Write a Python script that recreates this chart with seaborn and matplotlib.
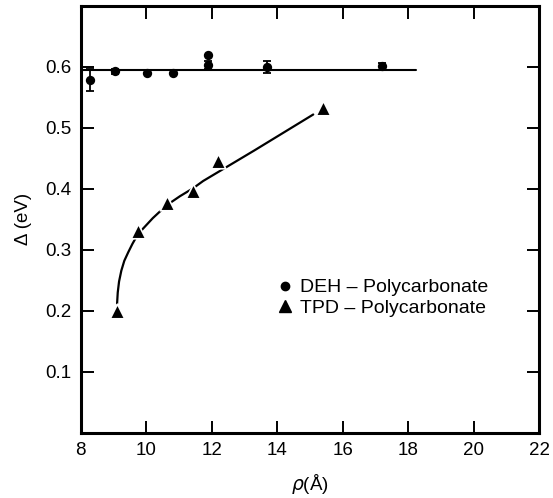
import matplotlib
matplotlib.use('Agg')
from matplotlib import pyplot as plt
from matplotlib.lines import Line2D
import numpy as np
import pandas as pd
import seaborn as sns

# DEH - Polycarbonate points (with error bars)
deh_rho = [8.28, 9.04, 10.02, 10.81, 11.90, 11.90, 13.69, 17.20]
deh_delta = [0.579, 0.593, 0.590, 0.590, 0.619, 0.603, 0.600, 0.601]
deh_err = [0.018, 0.004, 0.0, 0.0, 0.0, 0.006, 0.010, 0.006]
# horizontal fit through DEH points
deh_fit_rho = [8.0, 18.25]
deh_fit_delta = [0.595, 0.595]

# TPD - Polycarbonate points
tpd_rho = [9.11, 9.75, 10.62, 11.43, 12.18, 15.39]
tpd_delta = [0.200, 0.331, 0.377, 0.396, 0.446, 0.532]
# drawn curve through TPD points
tpd_curve_rho = [9.11, 9.13, 9.17, 9.24, 9.33, 9.45, 9.58, 9.75, 10.2, 10.62, 11.03, 11.43, 11.74, 13.3, 15.1]
tpd_curve_delta = [0.212, 0.230, 0.248, 0.266, 0.282, 0.296, 0.310, 0.326, 0.352, 0.373, 0.388, 0.401, 0.413, 0.463, 0.522]

X_TICKS = [8, 10, 12, 14, 16, 18, 20, 22]
Y_TICKS = [0.1, 0.2, 0.3, 0.4, 0.5, 0.6]

sns.set_theme(style='ticks')
plt.rcParams['font.family'] = ['Liberation Sans', 'DejaVu Sans']
plt.rcParams['mathtext.fontset'] = 'dejavusans'
plt.rcParams['text.color'] = 'black'
plt.rcParams['axes.labelcolor'] = 'black'

fig = plt.figure(figsize=(5.53, 4.98), dpi=100)
ax = fig.add_axes([0.146, 0.131, 0.829, 0.857])

df_deh = pd.DataFrame({'rho': deh_rho, 'delta': deh_delta})
df_tpd = pd.DataFrame({'rho': tpd_rho, 'delta': tpd_delta})
df_deh_fit = pd.DataFrame({'rho': deh_fit_rho, 'delta': deh_fit_delta})
df_tpd_curve = pd.DataFrame({'rho': tpd_curve_rho, 'delta': tpd_curve_delta})

sns.lineplot(data=df_deh_fit, x='rho', y='delta', color='black', linewidth=1.5,
             sort=False, estimator=None, ax=ax)
sns.lineplot(data=df_tpd_curve, x='rho', y='delta', color='black', linewidth=1.6,
             sort=False, estimator=None, ax=ax)

ax.errorbar(deh_rho, deh_delta, yerr=deh_err, fmt='none', ecolor='black',
            elinewidth=1.3, capsize=3, capthick=1.3, zorder=3)
sns.scatterplot(data=df_deh, x='rho', y='delta', marker='o', s=45, color='black',
                edgecolor='black', linewidth=0, zorder=4, ax=ax)
sns.scatterplot(data=df_tpd, x='rho', y='delta', marker='^', s=110, color='black',
                edgecolor='white', linewidth=1.2, zorder=4, ax=ax)

ax.set_xlim(8, 22)
ax.set_ylim(0, 0.7)
ax.set_xticks(X_TICKS)
ax.set_yticks(Y_TICKS)
ax.set_yticklabels(['%.1f' % v for v in Y_TICKS])
ax.tick_params(direction='in', length=9, width=1.4, labelsize=13.5, colors='black',
               top=True, right=True, pad=7)
ax.tick_params(axis='x', labeltop=False)
ax.tick_params(axis='y', labelright=False)
for sp in ax.spines.values():
    sp.set_visible(True)
    sp.set_linewidth(2.2)
    sp.set_color('black')

ax.set_xlabel(r'$\rho$(Å)', fontsize=13.5, labelpad=9)
ax.set_ylabel('Δ (eV)', fontsize=13.5, labelpad=9)

handles = [
    Line2D([], [], marker='o', color='black', linestyle='none', markersize=6),
    Line2D([], [], marker='^', color='black', linestyle='none', markersize=9),
]
ax.legend(handles, ['DEH – Polycarbonate', 'TPD – Polycarbonate'], loc='center left',
          bbox_to_anchor=(0.428, 0.316), frameon=False, fontsize=14, borderpad=0,
          borderaxespad=0, handlelength=0.8, handletextpad=0.4, labelspacing=0.15,
          labelcolor='black')

fig.savefig('out.png', dpi=100)
